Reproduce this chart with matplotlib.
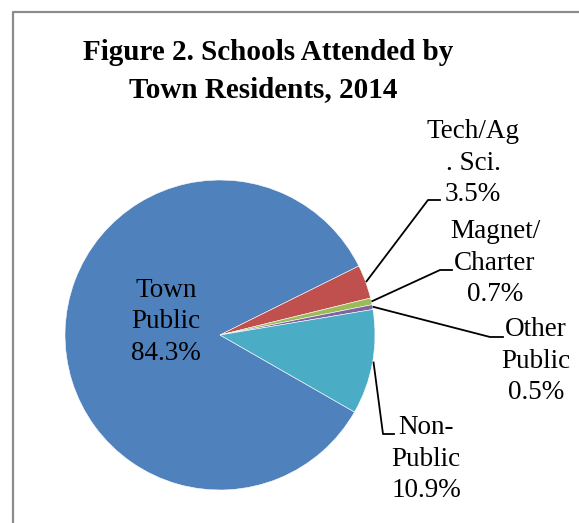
import matplotlib
matplotlib.use("Agg")
import matplotlib.pyplot as plt
import numpy as np

categories = ["Town\nPublic", "Tech/Ag\n. Sci.", "Magnet/\nCharter", "Other\nPublic", "Non-\nPublic"]
values = [84.3, 3.5, 0.7, 0.5, 10.9]
colors = ["#4F81BD", "#C0504D", "#9BBB59", "#8064A2", "#4BACC6"]
title_lines = ["Figure 2. Schools Attended by", "Town Residents, 2014"]

W, H = 579, 523
fig = plt.figure(figsize=(W / 100, H / 100), dpi=100)
ax = fig.add_axes([0, 0, 1, 1])

def py(y):
    return H - y

cx, cy, R = 220, py(335), 155
wedges, _ = ax.pie(values, colors=colors, center=(cx, cy), radius=R,
                   startangle=-29.8, counterclock=False,
                   wedgeprops=dict(edgecolor="white", linewidth=0.4))
ax.set_xlim(0, W)
ax.set_ylim(0, H)
ax.set_aspect("equal")
ax.axis("off")

# frame (left & top visible)
ax.plot([12.5, 12.5, W + 5], [py(H + 5), py(11.5), py(11.5)], color="#8C8C8C", lw=1.6,
        solid_capstyle="butt")

font = dict(family="Liberation Serif", fontsize=19.5, color="black")
LS = 1.33

def lab(c, v):
    return f"{c}\n{v:.1f}%"

# Town Public label inside
ax.text(166, py(322), lab(categories[0], values[0]), ha="center", va="center",
        linespacing=LS, **font)

# outside labels: (index, text center x, text center y, elbow pt, line end pt)
outs = [
    (1, 473, 163, (428, 200), (440, 200)),
    (2, 495, 263, (440, 270), (452, 270)),
    (3, 536, 361, (490, 337), (503, 337)),
    (4, 426, 459, (383, 434), (394, 434)),
]
for i, tx, ty, elb, end in outs:
    w = wedges[i]
    mid = np.deg2rad((w.theta1 + w.theta2) / 2)
    ax0 = cx + (R + 1) * np.cos(mid)
    ay0 = cy + (R + 1) * np.sin(mid)
    ax.plot([ax0, elb[0], end[0]], [ay0, py(elb[1]), py(end[1])], color="black", lw=1.3)
    ax.text(tx, py(ty), lab(categories[i], values[i]), ha="center", va="center",
            linespacing=LS, **font)

tfont = dict(family="Liberation Serif", fontweight="bold", fontsize=21, color="black")
ax.text(268, py(60), title_lines[0], ha="center", va="baseline", **tfont)
ax.text(263, py(97), title_lines[1], ha="center", va="baseline", **tfont)

fig.savefig("out.png", dpi=100)
